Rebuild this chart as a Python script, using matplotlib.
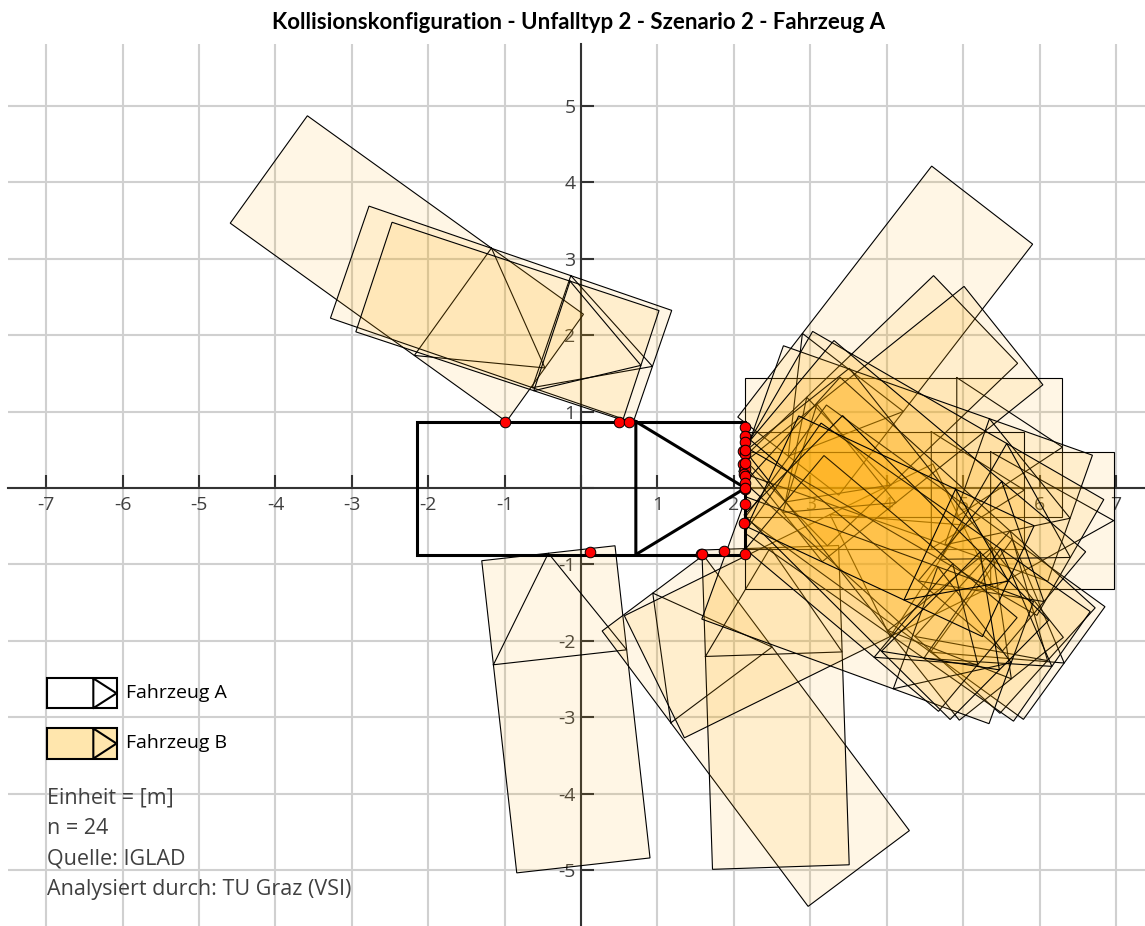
import numpy as np
import matplotlib
matplotlib.use("Agg")
import matplotlib.pyplot as plt
from matplotlib.patches import Polygon
from matplotlib.ticker import FixedLocator, FuncFormatter

# ---------------- data ----------------
title = "Kollisionskonfiguration - Unfalltyp 2 - Szenario 2 - Fahrzeug A"
x_ticks = [-7, -6, -5, -4, -3, -2, -1, 0, 1, 2, 3, 4, 5, 6, 7]
y_ticks = [-5, -4, -3, -2, -1, 0, 1, 2, 3, 4, 5]

# Fahrzeug A (center x, center y, heading deg, length, width)
a_cx, a_cy, a_heading, a_len, a_wid = 0.0, 0.0, 0.0, 4.3, 1.74

# Fahrzeug B (24 vehicles)
b_cx = [-2.28, -1.047, -0.964, -0.199, 2.286, 2.545, 2.978,
        4.225, 3.975, 4.555, 3.98, 3.918, 4.084, 4.378,
        4.50, 4.435, 4.23, 4.498, 4.41, 4.40, 3.75, 3.928, 4.126, 4.05]
b_cy = [2.87, 2.274, 2.183, -2.895, -3.176, -2.87, -1.476,
        0.535, -0.027, -0.426, 2.06, 1.012, 0.838, 0.321,
        -0.97, -0.749, -0.735, 0.192, -0.103, -1.10, -1.60, -1.248, -1.04, -0.50]
b_heading = [-35.7, -19.0, -18.3, 96.4, 126.8, 91.9, 26.2,
             0.0, 0.0, 0.0, 232.3, 223.8, 218.7, -19.5,
             -35.9, -42.1, -51.5, -30.0, -40.0, -35.0, -20.0, -40.0, -44.8, -25.0]
b_len = [4.45, 4.19, 3.68, 4.11, 4.50, 4.18, 4.50,
         4.15, 3.65, 4.83, 4.15, 3.45, 3.70, 4.29,
         4.50, 4.50, 4.50, 4.40, 4.30, 4.30, 4.00, 3.30, 3.80, 3.40]
b_wid = [1.73, 1.55, 1.51, 1.755, 1.655, 1.79, 1.78,
         1.82, 1.53, 1.80, 1.67, 1.59, 1.65, 1.75,
         1.82, 1.86, 1.74, 1.75, 1.70, 1.75, 1.70, 1.60, 1.83, 1.60]

# collision points on Fahrzeug A
dot_x = [-0.99, 0.49, 0.63,
         0.12, 1.57, 1.58, 1.87, 2.14,
         2.15, 2.15, 2.15, 2.12, 2.14, 2.12, 2.15, 2.13,
         2.14, 2.15, 2.15, 2.15, 2.13, 2.14, 2.15, 2.15]
dot_y = [0.87, 0.87, 0.87,
         -0.84, -0.86, -0.86, -0.83, -0.86,
         0.80, 0.685, 0.606, 0.488, 0.445, 0.31, 0.245, 0.183,
         0.157, 0.07, -0.017, -0.214, -0.462, 0.50, 0.33, 0.0]

info_lines = ["Einheit = [m]", "n = 24", "Quelle: IGLAD", "Analysiert durch: TU Graz (VSI)"]
legend_labels = ["Fahrzeug A", "Fahrzeug B"]

# ---------------- helpers ----------------
def vehicle_geom(cx, cy, hdg, L, W):
    t = np.deg2rad(hdg)
    u = np.array([np.cos(t), np.sin(t)])
    v = np.array([-np.sin(t), np.cos(t)])
    c = np.array([cx, cy])
    rect = [c - L/2*u + W/2*v, c + L/2*u + W/2*v, c + L/2*u - W/2*v, c - L/2*u - W/2*v]
    apex = c + L/2*u
    p1 = c + L/6*u + W/2*v
    p2 = c + L/6*u - W/2*v
    tri = [p1, apex, p2, p1]
    return np.array(rect), np.array(tri)

TXT = "#404040"
FONT = ["Open Sans", "DejaVu Sans"]

fig = plt.figure(figsize=(11.45, 9.26), dpi=100)
ax = fig.add_axes([8/1145, 0, 1137/1145, 882/926])
ax.set_xlim(-7.5, 7.38)
ax.set_ylim(-5.73, 5.81)

ax.xaxis.set_major_locator(FixedLocator(x_ticks))
ax.yaxis.set_major_locator(FixedLocator(y_ticks))
fmt = FuncFormatter(lambda val, pos: "" if abs(val) < 1e-9 else "%d" % val)
ax.xaxis.set_major_formatter(fmt)
ax.yaxis.set_major_formatter(fmt)
ax.grid(True, color="#d0d0d0", lw=1.5)
ax.set_axisbelow(True)

for s in ["top", "right"]:
    ax.spines[s].set_visible(False)
for s in ["left", "bottom"]:
    ax.spines[s].set_position(("data", 0))
    ax.spines[s].set_color("#333333")
    ax.spines[s].set_linewidth(1.5)
ax.tick_params(direction="in", length=9.5, width=1.5, color="#333333",
               labelcolor=TXT, labelsize=14)
ax.tick_params(axis="x", pad=6)
ax.tick_params(axis="y", pad=4)
for lab in ax.get_xticklabels() + ax.get_yticklabels():
    lab.set_fontfamily(FONT)

# Fahrzeug B
for cx, cy, h, L, W in zip(b_cx, b_cy, b_heading, b_len, b_wid):
    rect, tri = vehicle_geom(cx, cy, h, L, W)
    ax.add_patch(Polygon(rect, closed=True, facecolor=(1.0, 0.67, 0.0, 0.10),
                         edgecolor="black", lw=0.8, zorder=3))
    ax.plot(tri[:, 0], tri[:, 1], color="black", lw=0.8, zorder=3)

# Fahrzeug A
rect, tri = vehicle_geom(a_cx, a_cy, a_heading, a_len, a_wid)
ax.add_patch(Polygon(rect, closed=True, facecolor="none", edgecolor="black",
                     lw=2.2, zorder=4, joinstyle="miter"))
ax.plot(tri[:, 0], tri[:, 1], color="black", lw=2.2, zorder=4)

# collision points
ax.scatter(dot_x, dot_y, s=58, facecolor="#ff0000", edgecolor="black",
           linewidth=0.7, zorder=5)

# legend (drawn in data space)
def legend_icon(x0, x1, y0, y1, face):
    xm = x1 - (x1 - x0) / 3.0
    ax.add_patch(Polygon([[x0, y0], [x1, y0], [x1, y1], [x0, y1]], closed=True,
                         facecolor=face, edgecolor="black", lw=1.5, zorder=6))
    ax.plot([xm, x1, xm, xm], [y0, (y0 + y1) / 2, y1, y0], color="black", lw=1.5, zorder=6)

legend_icon(-6.99, -6.08, -2.49, -2.88, "white")
legend_icon(-6.99, -6.08, -3.145, -3.54, "#ffe6ad")
ax.text(-5.96, -2.685, legend_labels[0], fontsize=14, color="black",
        va="center", ha="left", family=FONT, zorder=6)
ax.text(-5.96, -3.34, legend_labels[1], fontsize=14, color="black",
        va="center", ha="left", family=FONT, zorder=6)

for i, line in enumerate(info_lines):
    ax.text(-6.99, -4.06 - 0.397 * i, line, fontsize=15.5, color=TXT,
            va="center", ha="left", family=FONT, zorder=6)

fig.text(0.5057, 0.976, title, ha="center", va="center", fontsize=16,
         fontweight="bold", family=["Lato", "DejaVu Sans"])

fig.savefig("out.png", dpi=100)
